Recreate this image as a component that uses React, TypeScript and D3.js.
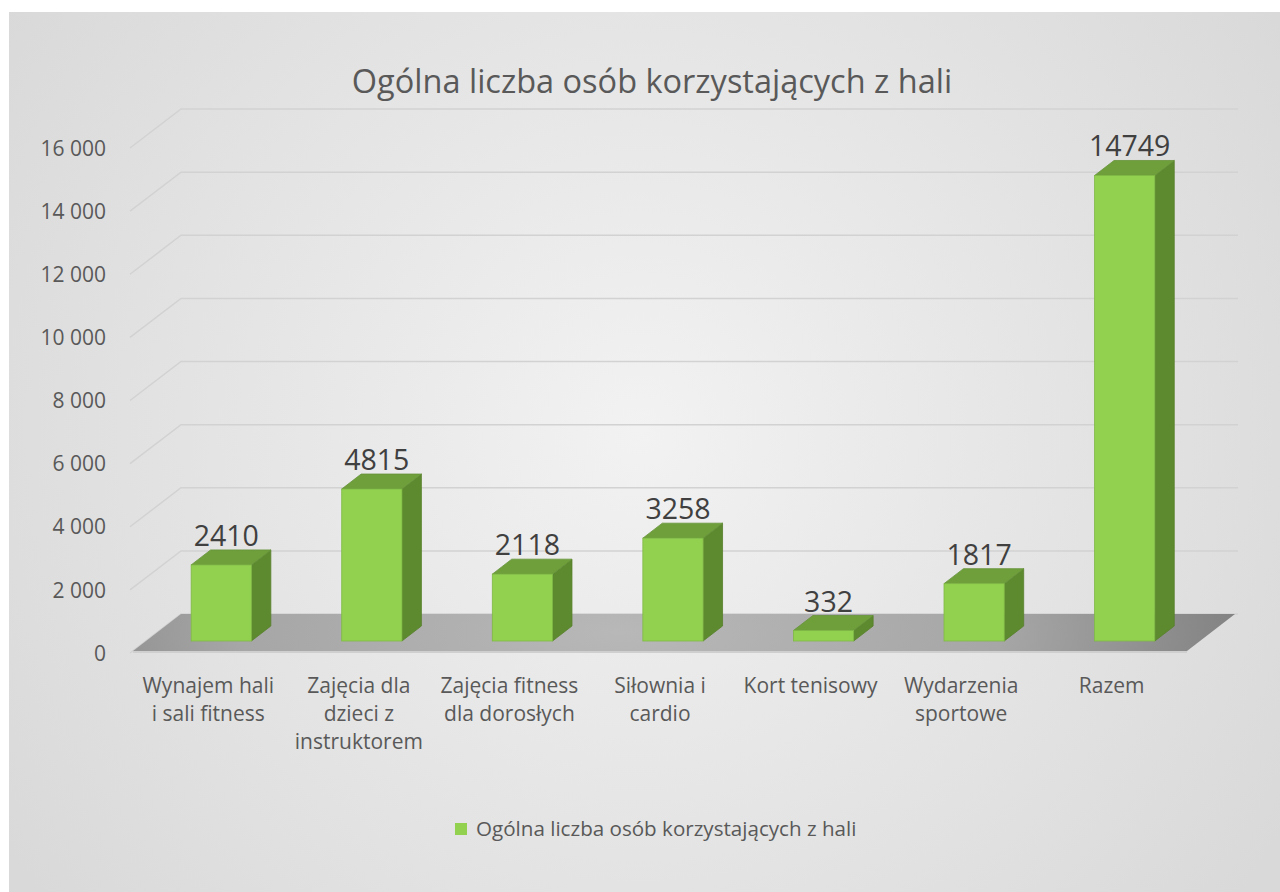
import React from "react";
import * as d3 from "d3";

const categoryLines: string[][] = [
  ["Wynajem hali", "i sali fitness"],
  ["Zajęcia dla", "dzieci z", "instruktorem"],
  ["Zajęcia fitness", "dla dorosłych"],
  ["Siłownia i", "cardio"],
  ["Kort tenisowy"],
  ["Wydarzenia", "sportowe"],
  ["Razem"],
];
const categories: string[] = categoryLines.map((l) => l.join(" "));
const values: number[] = [2410, 4815, 2118, 3258, 332, 1817, 14749];
const yTicks: number[] = [0, 2000, 4000, 6000, 8000, 10000, 12000, 14000, 16000];
const title = "Ogólna liczba osób korzystających z hali";
const seriesName = "Ogólna liczba osób korzystających z hali";

const FONT = "'Open Sans', 'Noto Sans', sans-serif";

export default function App() {
  const W = 1280, H = 892;
  // floor / plot geometry
  const floorFrontY = 651;
  const floorX0 = 133, floorX1 = 1187;
  const depthDx = 48, depthDy = -37;
  const barFrontOff = 10 / 37; // fraction of depth where bar front face sits
  const barDepth = 15 / 37; // fraction of depth the bar occupies

  const y = d3.scaleLinear().domain([0, 16000]).range([0, 505]);
  const x = d3.scaleBand<string>().domain(categories).range([floorX0, floorX1]).padding(0);
  const barW = x.bandwidth() * 0.4;

  const fmt = (v: number) => d3.format(",")(v).replace(/,/g, " ");

  const bdx = depthDx * barDepth, bdy = depthDy * barDepth;
  const fdx = depthDx * barFrontOff, fdy = depthDy * barFrontOff;

  const pts = (p: number[][]) => p.map((q) => q.join(",")).join(" ");

  return (
    <svg width={W} height={H} style={{ position: "absolute", left: 0, top: 0 }} fontFamily={FONT}>
      <defs>
        <radialGradient id="bg" cx="640" cy="430" r="760" gradientUnits="userSpaceOnUse">
          <stop offset="0" stopColor="#f2f2f2" />
          <stop offset="1" stopColor="#d9d9d9" />
        </radialGradient>
        <radialGradient id="floor" cx="620" cy="632" r="640" gradientUnits="userSpaceOnUse" gradientTransform="translate(620 632) scale(1 0.3) translate(-620 -632)">
          <stop offset="0" stopColor="#b8b8b8" />
          <stop offset="0.6" stopColor="#a6a6a6" />
          <stop offset="1" stopColor="#7f7f7f" />
        </radialGradient>
      </defs>
      <rect x={9} y={12} width={W - 9} height={H - 12} fill="url(#bg)" />

      {/* gridlines: side wall + back wall */}
      {yTicks.map((t) => {
        const yf = floorFrontY - y(t);
        const xb = floorX0 + depthDx, yb = yf + depthDy;
        return (
          <polyline
            key={t}
            points={pts([[floorX0 - 3, yf + 2], [xb, yb], [floorX1 + depthDx + 3, yb]])}
            fill="none"
            stroke="#d2d2d2"
            strokeWidth={1.5}
          />
        );
      })}

      {/* floor */}
      <polygon
        points={pts([
          [floorX0, floorFrontY],
          [floorX0 + depthDx, floorFrontY + depthDy],
          [floorX1 + depthDx, floorFrontY + depthDy],
          [floorX1, floorFrontY],
        ])}
        fill="url(#floor)"
      />
      <line x1={floorX0} x2={floorX1} y1={floorFrontY + 1} y2={floorFrontY + 1} stroke="#cfcfcf" strokeWidth={2} />

      {/* y tick labels */}
      {yTicks.map((t) => (
        <text key={t} x={106} y={floorFrontY - y(t) + 4} textAnchor="end" dominantBaseline="middle" fontSize={21} fill="#595959">
          {fmt(t)}
        </text>
      ))}

      {/* bars */}
      {categories.map((c, i) => {
        const v = values[i];
        const cx = (x(c) as number) + x.bandwidth() / 2 + fdx;
        const by = floorFrontY + fdy;
        const x0 = cx - barW / 2, x1 = cx + barW / 2;
        const ty = by - y(v);
        return (
          <g key={c}>
            <polygon points={pts([[x1, by], [x1 + bdx, by + bdy], [x1 + bdx, ty + bdy], [x1, ty]])} fill="#5e8a2f" stroke="#577f2b" strokeWidth={0.8} />
            <polygon points={pts([[x0, ty], [x0 + bdx, ty + bdy], [x1 + bdx, ty + bdy], [x1, ty]])} fill="#6f9f3b" stroke="#66933a" strokeWidth={0.8} />
            <rect x={x0} y={ty} width={barW} height={by - ty} fill="#92d050" stroke="#7fb845" strokeWidth={0.8} />
            <text x={cx + 5} y={ty + bdy - 4} textAnchor="middle" fontSize={28.5} fill="#404040">
              {v}
            </text>
          </g>
        );
      })}

      {/* category labels */}
      {categoryLines.map((lines, i) => {
        const cx = (x(categories[i]) as number) + x.bandwidth() / 2;
        return (
          <text key={i} textAnchor="middle" fontSize={21} fill="#595959">
            {lines.map((ln, j) => (
              <tspan key={j} x={cx} y={693 + j * 28}>
                {ln}
              </tspan>
            ))}
          </text>
        );
      })}

      {/* title */}
      <text x={652} y={93} textAnchor="middle" fontSize={32.5} fill="#595959">
        {title}
      </text>

      {/* legend */}
      <rect x={455} y={823} width={12} height={12} fill="#92d050" />
      <text x={476} y={830} dominantBaseline="middle" fontSize={20.6} fill="#595959">
        {seriesName}
      </text>
    </svg>
  );
}
